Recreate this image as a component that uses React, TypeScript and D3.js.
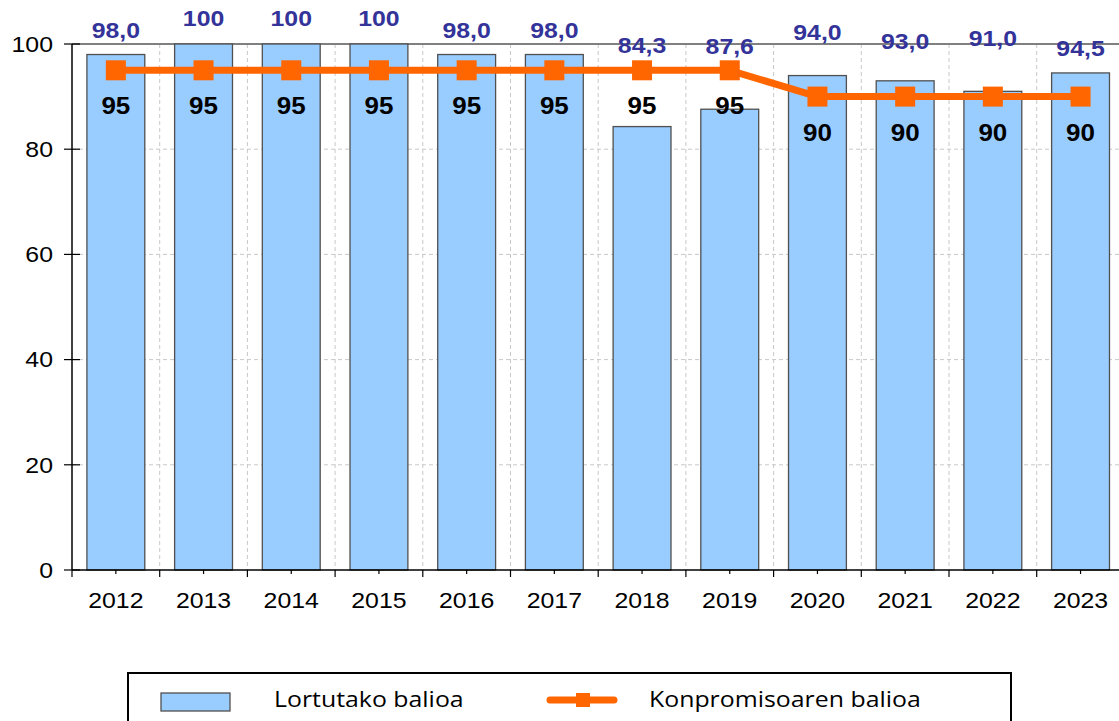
import React from "react";
import * as d3 from "d3";

const years = ["2012","2013","2014","2015","2016","2017","2018","2019","2020","2021","2022","2023"];
const achieved = [98.0, 100, 100, 100, 98.0, 98.0, 84.3, 87.6, 94.0, 93.0, 91.0, 94.5];
const achievedLabels = ["98,0","100","100","100","98,0","98,0","84,3","87,6","94,0","93,0","91,0","94,5"];
const commitment = [95, 95, 95, 95, 95, 95, 95, 95, 90, 90, 90, 90];
const yTicks = [0, 20, 40, 60, 80, 100];
const legendLabels = ["Lortutako balioa", "Konpromisoaren balioa"];

// layout (pixel lifts of value labels above bar tops, as placed in original)
const labelLift = [24, 26, 26, 26, 24, 24, 81, 63, 43, 40, 53, 25];

const SX = 1.13;

function T(props: { x: number; y: number; anchor?: string; size: number; weight?: string; fill?: string; family?: string; dy?: string; children: React.ReactNode }) {
  const { x, y, anchor = "start", size, weight = "normal", fill = "#000", family = "Arial, 'Liberation Sans', sans-serif", dy, children } = props;
  return (
    <text transform={`translate(${x},${y}) scale(${SX},1)`} textAnchor={anchor} fontSize={size} fontWeight={weight} fill={fill} fontFamily={family} dy={dy}>{children}</text>
  );
}

export default function App() {
  const W = 1119, H = 721;
  const left = 72, top = 44, bottom = 570;
  const step = 87.7;
  const x = d3.scaleBand<string>().domain(years).range([left, left + step * years.length]).paddingInner(0.34).paddingOuter(0.17);
  const y = d3.scaleLinear().domain([0, 100]).range([bottom, top]);
  const cx = (d: string) => (x(d) as number) + x.bandwidth() / 2;
  const line = d3.line<number>().x((_, i) => cx(years[i])).y((v) => y(v));
  const plotRight = left + step * years.length;
  const legendFont = "'Open Sans', 'Noto Sans', sans-serif";
  return (
    <svg width={W} height={H} style={{ position: "absolute", left: 0, top: 0, background: "#fff" }}>
      {yTicks.filter(t => t > 0 && t < 100).map(t => (
        <line key={"hg" + t} x1={left} x2={plotRight} y1={y(t)} y2={y(t)} stroke="#c8c8c8" strokeDasharray="4,3" strokeWidth={1} />
      ))}
      {years.map((d, i) => i > 0 ? (
        <line key={"vg" + d} x1={left + step * i} x2={left + step * i} y1={top} y2={bottom} stroke="#c8c8c8" strokeDasharray="4,3" strokeWidth={1} />
      ) : null)}
      <line x1={left} x2={plotRight} y1={y(100)} y2={y(100)} stroke="#808080" strokeWidth={2} />
      {years.map((d, i) => (
        <rect key={"b" + d} x={x(d)} y={y(achieved[i])} width={x.bandwidth()} height={bottom - y(achieved[i])} fill="#99CCFF" stroke="#505050" strokeWidth={1.3} />
      ))}
      <line x1={left} x2={left} y1={top} y2={bottom} stroke="#000" strokeWidth={1.5} />
      <line x1={left} x2={plotRight} y1={bottom} y2={bottom} stroke="#000" strokeWidth={1.5} />
      {yTicks.map(t => (
        <g key={"yt" + t}>
          <line x1={64} x2={80} y1={y(t)} y2={y(t)} stroke="#000" strokeWidth={1.2} />
          <T x={53} y={y(t)} dy="0.35em" anchor="end" size={22}>{t}</T>
        </g>
      ))}
      {years.map((d, i) => (
        <g key={"xt" + d}>
          <line x1={left + step * i} x2={left + step * i} y1={bottom} y2={bottom + 7} stroke="#000" strokeWidth={1.2} />
          <line x1={cx(d)} x2={cx(d)} y1={bottom} y2={bottom + 4} stroke="#000" strokeWidth={1.2} />
          <T x={cx(d)} y={608} anchor="middle" size={22}>{d}</T>
        </g>
      ))}
      <path d={line(commitment) || ""} fill="none" stroke="#FF6600" strokeWidth={7} strokeLinejoin="round" />
      {commitment.map((v, i) => (
        <rect key={"m" + i} x={cx(years[i]) - 10} y={y(v) - 10} width={20} height={20} fill="#FF6600" />
      ))}
      {commitment.map((v, i) => (
        <T key={"cl" + i} x={cx(years[i])} y={y(v) + 36} dy="0.35em" anchor="middle" size={23} weight="bold">{v}</T>
      ))}
      {achieved.map((v, i) => (
        <T key={"al" + i} x={cx(years[i])} y={y(v) - labelLift[i]} dy="0.35em" anchor="middle" size={22} weight="bold" fill="#333399">{achievedLabels[i]}</T>
      ))}
      <rect x={128} y={673} width={883} height={60} fill="#fff" stroke="#000" strokeWidth={2} />
      <rect x={161} y={693} width={69} height={18} fill="#99CCFF" stroke="#505050" strokeWidth={1.3} />
      <T x={274} y={707} size={22} family={legendFont}>{legendLabels[0]}</T>
      <line x1={550} x2={614} y1={700} y2={700} stroke="#FF6600" strokeWidth={7} strokeLinecap="round" />
      <rect x={576} y={693} width={14} height={14} fill="#FF6600" />
      <T x={649} y={707} size={22} family={legendFont}>{legendLabels[1]}</T>
    </svg>
  );
}
